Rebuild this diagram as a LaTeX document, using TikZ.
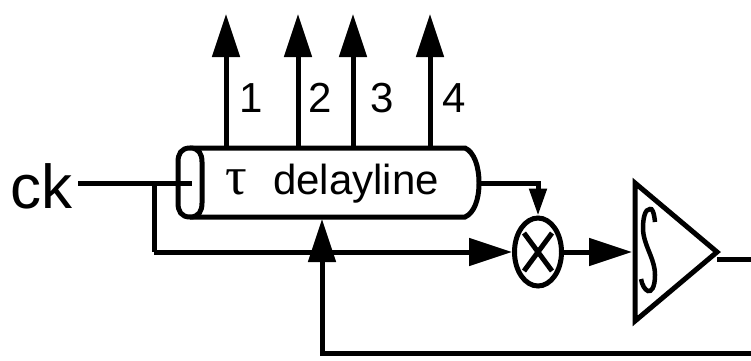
\documentclass[tikz,border=0pt]{standalone}
\usepackage{fontspec}
\setmainfont{Liberation Sans}
\newfontfamily\tauserif{Liberation Serif}
\usetikzlibrary{arrows.meta,shapes.geometric,calc}
\tikzset{
  x=1pt,y=-1pt,
  wire/.style={line width=5pt,line join=miter,line cap=butt},
  sig/.style={wire,-{Triangle[length=43pt,width=27pt]}},
  shortsig/.style={wire,-{Triangle[length=27pt,width=17pt]}},
  shape outline/.style={line width=5pt,fill=white},
  lab/.style={inner sep=0pt,font=\fontsize{42}{42}\selectfont},
}
\begin{document}
\begin{tikzpicture}
\useasboundingbox (0,0) rectangle (751,360);
% anchors
\coordinate (inJ) at (154,183);
\coordinate (tick) at (192,183);
\coordinate (dlR) at (479,183);
\coordinate (mcorner) at (538,183);
\coordinate (corner1) at (154,252);
\coordinate (fbTip) at (322,219);
\coordinate (fbC) at (322,353);
\coordinate (fbE) at (751,353);
\coordinate (out) at (717,259);
\coordinate (outE) at (751,259);
\coordinate (t1) at (226,14); \coordinate (t2) at (298,14);
\coordinate (t3) at (353,14); \coordinate (t4) at (430,14);
\coordinate (b1) at (226,148); \coordinate (b2) at (298,148);
\coordinate (b3) at (353,148); \coordinate (b4) at (430,148);
% delay line body
\draw[shape outline] (190,148) -- (465,148) .. controls (474,152) and (479,166) .. (479,183)
  .. controls (479,200) and (474,213) .. (465,217) -- (190,217);
\draw[shape outline] (190,148) .. controls (181,148) and (178,154) .. (178,162) -- (178,203)
  .. controls (178,211) and (181,217) .. (190,217)
  .. controls (199,217) and (202,211) .. (202,203) -- (202,162)
  .. controls (202,154) and (199,148) .. (190,148) -- cycle;
\node[inner sep=0pt,anchor=base,font=\tauserif\fontsize{54}{54}\selectfont] (tau) at (236,194) {τ};
\node[inner sep=0pt,anchor=base west,font=\fontsize{42}{42}\selectfont] (dl) at (273,194) {delayline};
% ck
\node[inner sep=0pt,anchor=base west,font=\fontsize{62}{62}\selectfont] (ck) at (10,208) {ck};
\draw[wire] (78,183) -- (tick);
\draw[wire] (inJ) -- (corner1);
% multiplier
\node[draw,ellipse,line width=5pt,fill=white,minimum width=47pt,minimum height=68pt,inner sep=0pt] (mul) at (538,252) {};
\draw[wire] ($(mul.center)+(-14,-19)$) -- ($(mul.center)+(14,19)$);
\draw[wire] ($(mul.center)+(14,-19)$) -- ($(mul.center)+(-14,19)$);
% integrator
\draw[line width=5pt,miter limit=10,fill=white] (635,183) -- (717,252) -- (635,321) -- cycle;
\coordinate (intIn) at (632,252);
\draw[line width=4.5pt,line cap=butt] (655,222) .. controls (654,212) and (652,208) .. (650,209)
  .. controls (645,209) and (643,218) .. (643,228)
  .. controls (643,245) and (655,258) .. (655,275)
  .. controls (655,288) and (651,292) .. (648,291)
  .. controls (645,290) and (642,285) .. (641,279);
% connectors
\draw[shortsig] (dlR) -- (mcorner) -- (mul.north);
\draw[sig] (corner1) -- (mul.west);
\draw[sig] (mul.east) -- (intIn);
\draw[sig] (fbE) -- (fbC) -- (fbTip);
\draw[wire] (out) -- (outE);
\draw[sig] (b1) -- (t1); \draw[sig] (b2) -- (t2); \draw[sig] (b3) -- (t3); \draw[sig] (b4) -- (t4);
\node[lab,anchor=base] (l1) at (251,112) {1};
\node[lab,anchor=base] (l2) at (320,112) {2};
\node[lab,anchor=base] (l3) at (382,112) {3};
\node[lab,anchor=base] (l4) at (454,112) {4};
\end{tikzpicture}
\end{document}
